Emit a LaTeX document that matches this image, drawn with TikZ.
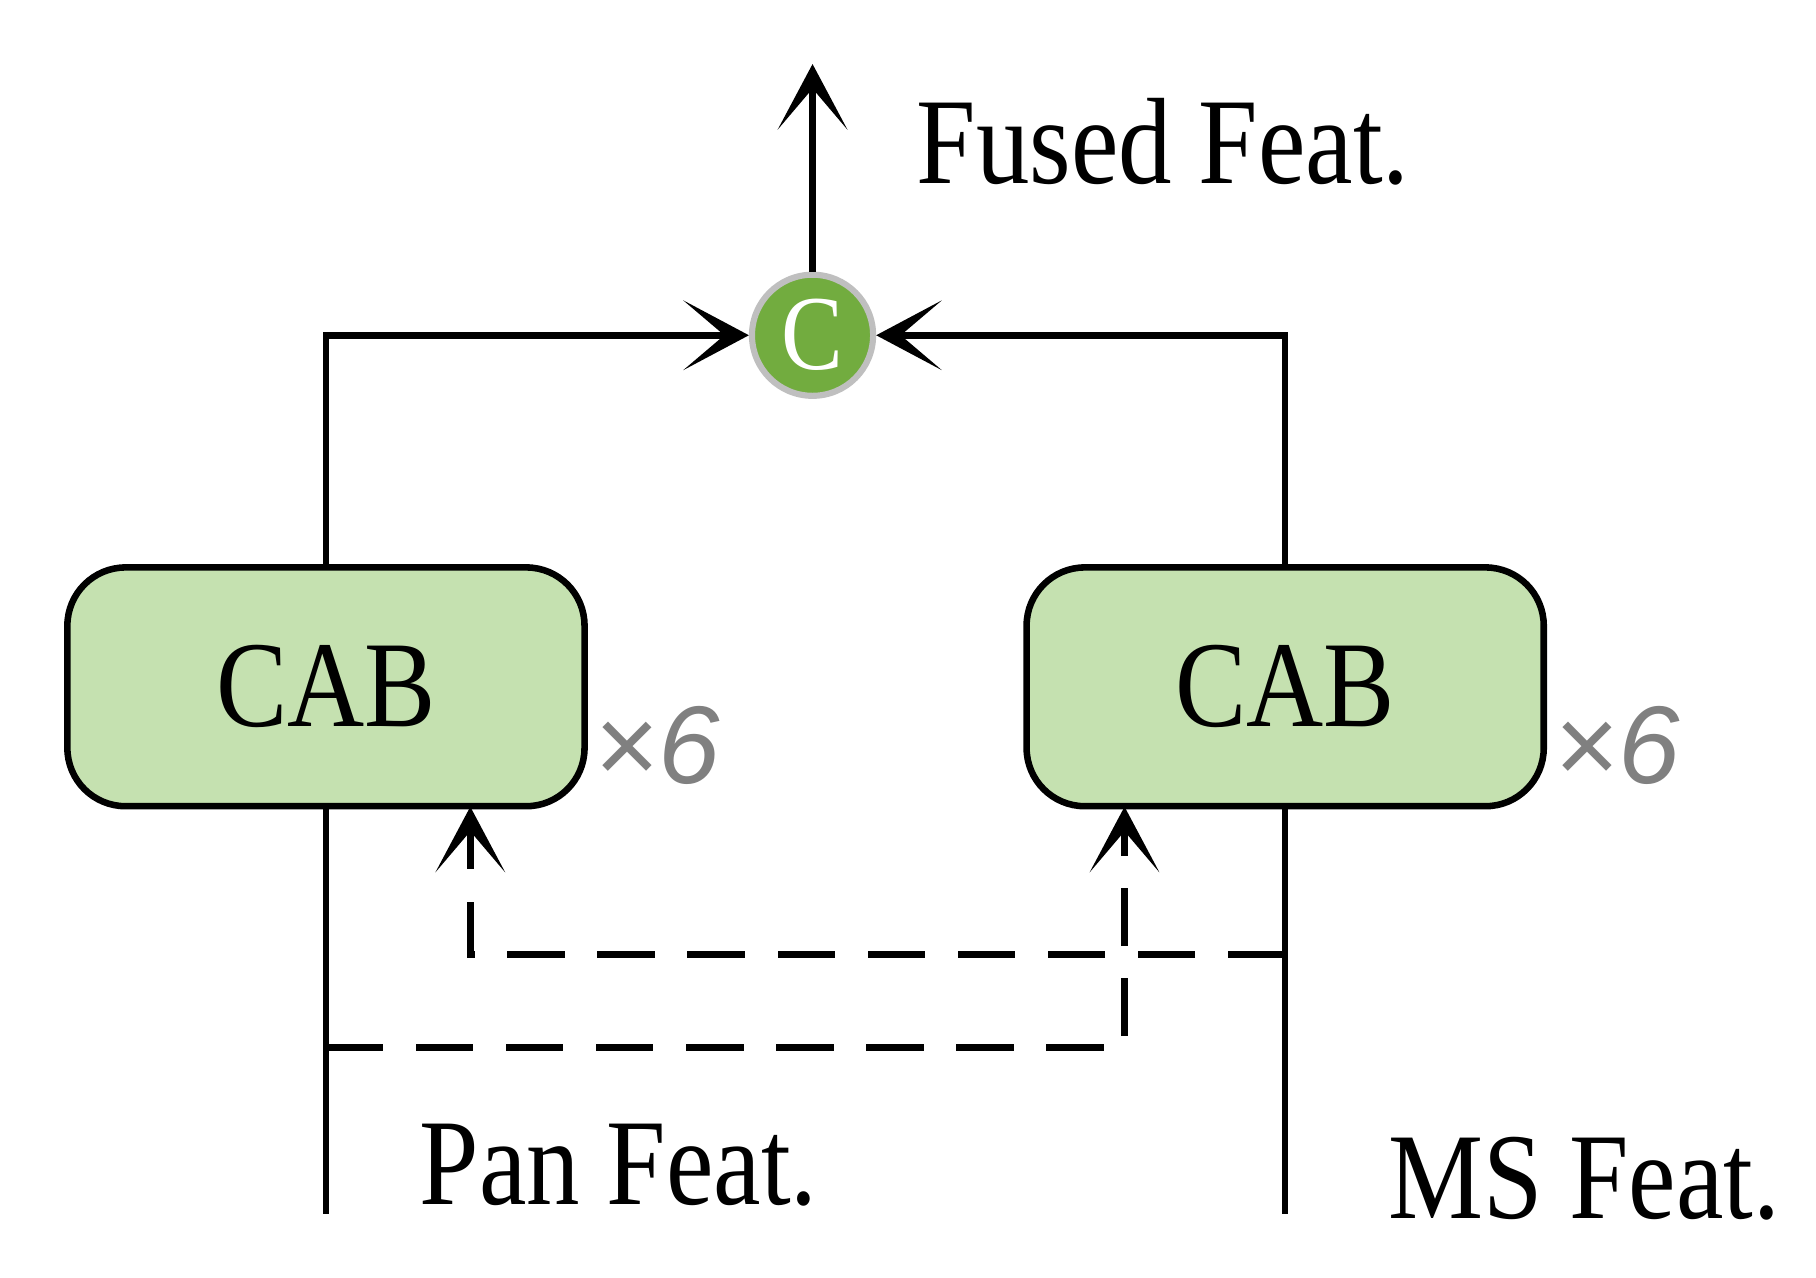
\documentclass[tikz,border=0pt]{standalone}
\usepackage{fontspec}
\setmainfont{Liberation Serif}[FakeStretch=0.87]
\newfontfamily\mysans{Liberation Sans}
\usetikzlibrary{arrows.meta}
\definecolor{boxg}{HTML}{C5E1B0}
\definecolor{catg}{HTML}{72AC3F}
\begin{document}
\begin{tikzpicture}[x=0.01cm,y=-0.01cm,
  ln/.style={line width=1.6pt},
  ar/.style={ln,-{Stealth[length=16pt,width=17pt,inset=10pt]}},
  dsh/.style={dash pattern=on 14pt off 8pt},
  cab/.style={draw,line width=1.6pt,fill=boxg,rounded corners=0.5cm,minimum width=4.44cm,minimum height=2.05cm,inner sep=0,font=\fontsize{30}{30}\selectfont},
  lbl/.style={font=\fontsize{30}{30}\selectfont,anchor=base west,inner sep=0},
  rep/.style={text=gray,font=\mysans\itshape\fontsize{27}{27}\selectfont,inner sep=0}]
\useasboundingbox (0,0) rectangle (1560,1097);
\node[circle,fill=catg,draw=gray!50,line width=1.5pt,minimum size=1.04cm,inner sep=0,text=white,font=\fontsize{26}{26}\selectfont] (c) at (698,288) {C};
\coordinate (out) at (698,55);
\draw[ar] (c.north) -- (out);
\node[cab] (l) at (280,590) {CAB};
\node[cab] (r) at (1104,590) {CAB};
\node[rep] (l6) at (564,640) {×6};
\node[rep] (r6) at (1389,640) {×6};
\draw[ar] (l.north) |- (c.west);
\draw[ar] (r.north) |- (c.east);
\coordinate (pb) at (280,1043);
\coordinate (mb) at (1104,1043);
\draw[ln] (l.south) -- (pb);
\draw[ln] (r.south) -- (mb);
\coordinate (m1) at (1104,820);
\coordinate (p1) at (280,900);
\coordinate (la) at (404,693);
\coordinate (ra) at (966,693);
\draw[ar,dsh] (m1) -| (la);
\draw[ar,dsh] (p1) -| (ra);
\node[lbl] (f) at (787,158) {Fused Feat.};
\node[lbl] (p) at (360,1035) {Pan Feat.};
\node[lbl] (m) at (1192,1047) {MS Feat.};
\end{tikzpicture}
\end{document}
